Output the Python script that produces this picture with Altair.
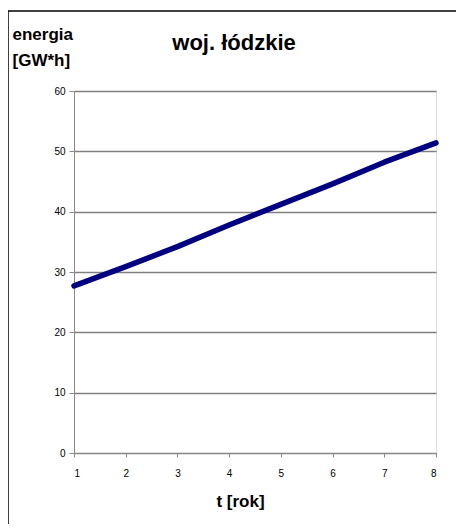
import altair as alt
import pandas as pd

years = [1, 2, 3, 4, 5, 6, 7, 8]
energy = [27.7, 30.9, 34.2, 37.8, 41.2, 44.6, 48.2, 51.4]
title_text = "woj. łódzkie"

df = pd.DataFrame({"t": years, "e": energy})

W, H = 362, 362

line = alt.Chart(df).mark_line(color="#000080", strokeWidth=5.5, strokeCap="round", strokeJoin="round").encode(
    x=alt.X("t:Q",
            scale=alt.Scale(domain=[1, 8], nice=False, zero=False),
            axis=alt.Axis(values=years, format="d", grid=False, title="t [rok]",
                          titleFontSize=17, titleFont="Liberation Sans", titleFontWeight="bold",
                          titleX=166, titleY=53, titleAlign="center", titleBaseline="alphabetic",
                          labelPadding=11, tickSize=4)),
    y=alt.Y("e:Q",
            scale=alt.Scale(domain=[0, 60], nice=False),
            axis=alt.Axis(values=[0, 10, 20, 30, 40, 50, 60], grid=True, gridColor="#808080", gridWidth=1.5,
                          title=["energia", "[GW*h]"], titleAngle=0, titleAlign="left",
                          titleBaseline="alphabetic", titleX=-62, titleY=-52, titleLineHeight=26,
                          titleFontSize=17, titleFont="Liberation Sans", titleFontWeight="bold",
                          labelPadding=4, tickSize=5)),
)

one = pd.DataFrame({"a": [0]})

border = alt.Chart(one).mark_rule(color="black", strokeWidth=1.5, clip=False).encode(
    x=alt.value(-66), y=alt.value(-80), y2=alt.value(441)
) + alt.Chart(one).mark_rule(color="black", strokeWidth=1.5, clip=False).encode(
    x=alt.value(-66), x2=alt.value(390), y=alt.value(-80)
)

title = alt.Chart(pd.DataFrame({"txt": [title_text]})).mark_text(
    font="Liberation Sans", fontSize=22, fontWeight="bold", color="black",
    align="center", baseline="alphabetic", clip=False
).encode(text="txt:N", x=alt.value(160), y=alt.value(-41))

chart = alt.layer(line, border, title).properties(
    width=W, height=H,
    padding={"left": 66, "top": 83, "right": 20, "bottom": 71},
    autosize=alt.AutoSizeParams(type="none"),
).configure_view(stroke="#808080", strokeWidth=1.5).configure_axis(
    domainColor="black", domainWidth=1.5, tickColor="black", tickWidth=1,
    labelFont="Liberation Sans", labelFontSize=11.5, labelColor="black", titleColor="black"
).configure(background="white")

chart.save("out.html", embed_options={"renderer": "svg", "actions": False})
